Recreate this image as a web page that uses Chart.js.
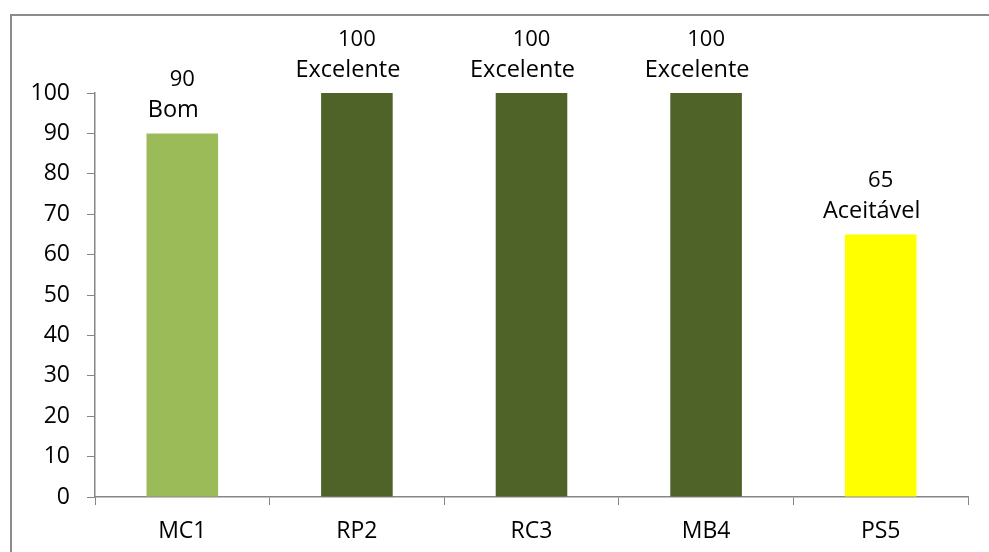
<!DOCTYPE html>
<html>
<head>
<meta charset="utf-8">
<script src="https://cdn.jsdelivr.net/npm/chart.js@4"></script>
<style>
  html, body { margin: 0; padding: 0; background: #ffffff; }
  #wrap { width: 989px; height: 552px; position: relative; }
</style>
</head>
<body>
<div id="wrap"><canvas id="chart" width="989" height="552"></canvas></div>
<script>
// Scores per unit and their qualitative rating
const categories = ['MC1', 'RP2', 'RC3', 'MB4', 'PS5'];
const scores = [90, 100, 100, 100, 65];
const ratings = ['Bom', 'Excelente', 'Excelente', 'Excelente', 'Aceitável'];
const barColors = ['#9BBB59', '#4F6228', '#4F6228', '#4F6228', '#FFFF00'];
const yTicks = [0, 10, 20, 30, 40, 50, 60, 70, 80, 90, 100];

const FONT = '"Open Sans", "DejaVu Sans", sans-serif';
const AXIS_GRAY = '#868686';

// Outer frame around the whole chart
const framePlugin = {
  id: 'frame',
  beforeDraw(chart) {
    const ctx = chart.ctx;
    ctx.save();
    ctx.strokeStyle = '#8c8c8c';
    ctx.lineWidth = 2;
    ctx.strokeRect(11, 15, 1000, 600);
    ctx.restore();
  }
};

// Value and rating written above each bar
const barLabelPlugin = {
  id: 'barLabels',
  afterDatasetsDraw(chart) {
    const ctx = chart.ctx;
    const meta = chart.getDatasetMeta(0);
    ctx.save();
    ctx.fillStyle = '#000000';
    ctx.textAlign = 'center';
    ctx.textBaseline = 'alphabetic';
    meta.data.forEach((bar, i) => {
      const x = bar.x;
      const top = bar.y;
      ctx.font = '22px ' + FONT;
      ctx.fillText(String(scores[i]), x, top - 47);
      ctx.font = '23.5px ' + FONT;
      ctx.fillText(ratings[i], x - 9, top - 16);
    });
    ctx.restore();
  }
};

new Chart(document.getElementById('chart'), {
  type: 'bar',
  data: {
    labels: categories,
    datasets: [{
      data: scores,
      backgroundColor: barColors,
      borderWidth: 0,
      barPercentage: 0.41,
      categoryPercentage: 1.0
    }]
  },
  options: {
    responsive: false,
    animation: false,
    devicePixelRatio: 1,
    layout: { padding: { top: 93, right: 21, bottom: 0, left: 0 } },
    plugins: {
      legend: { display: false },
      tooltip: { enabled: false },
      title: { display: false }
    },
    scales: {
      x: {
        offset: true,
        grid: {
          display: true,
          drawOnChartArea: false,
          drawTicks: true,
          tickLength: 8,
          color: AXIS_GRAY,
          offset: true
        },
        border: { display: true, color: AXIS_GRAY, width: 1.5 },
        ticks: {
          color: '#000000',
          font: { family: FONT, size: 23 },
          padding: 13,
          maxRotation: 0
        },
        afterFit(scale) { scale.height = 55; }
      },
      y: {
        min: 0,
        max: 100,
        grid: {
          display: true,
          drawOnChartArea: false,
          drawTicks: true,
          tickLength: 8,
          color: AXIS_GRAY
        },
        border: { display: true, color: AXIS_GRAY, width: 1.5 },
        ticks: {
          color: '#000000',
          font: { family: FONT, size: 23 },
          padding: 17
        },
        afterBuildTicks(scale) {
          scale.ticks = yTicks.map(v => ({ value: v }));
        },
        afterFit(scale) { scale.width = 95; }
      }
    }
  },
  plugins: [framePlugin, barLabelPlugin]
});
</script>
</body>
</html>
